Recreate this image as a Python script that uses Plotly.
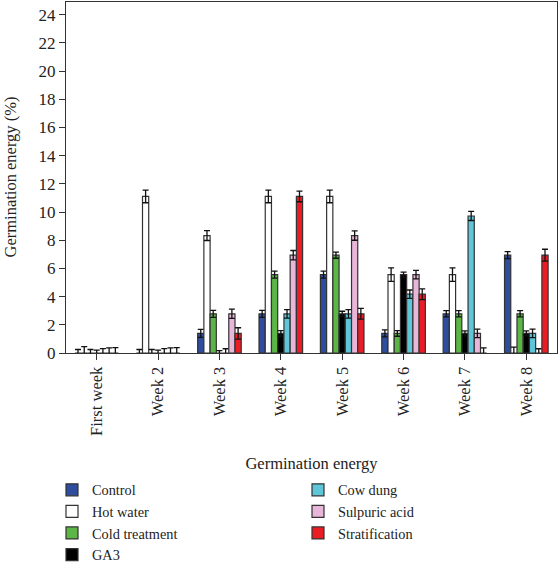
import plotly.graph_objects as go

weeks = ["First week", "Week 2", "Week 3", "Week 4", "Week 5", "Week 6", "Week 7", "Week 8"]
series_names = ["Control", "Hot water", "Cold treatment", "GA3", "Cow dung", "Sulpuric acid", "Stratification"]

control = [0, 0, 1.39, 2.78, 5.56, 1.39, 2.78, 6.94]
hot_water = [0, 11.11, 8.33, 11.11, 11.11, 5.56, 5.56, 0]
cold_treatment = [0, 0, 2.78, 5.56, 6.94, 1.39, 2.78, 2.78]
ga3 = [0, 0, 0, 1.39, 2.78, 5.56, 1.39, 1.39]
cow_dung = [0, 0, 0, 2.78, 2.78, 4.17, 9.72, 1.39]
sulpuric_acid = [0, 0, 2.78, 6.94, 8.33, 5.56, 1.39, 0]
stratification = [0, 0, 1.39, 11.11, 2.78, 4.17, 0, 6.94]

control_err = [0.25, 0.25, 0.28, 0.25, 0.25, 0.25, 0.22, 0.25]
hot_water_err = [0.45, 0.45, 0.35, 0.45, 0.45, 0.48, 0.48, 0.42]
cold_treatment_err = [0.25, 0.25, 0.25, 0.25, 0.22, 0.2, 0.22, 0.22]
ga3_err = [0.2, 0.2, 0.17, 0.2, 0.18, 0.18, 0.18, 0.18]
cow_dung_err = [0.31, 0.31, 0.3, 0.3, 0.3, 0.3, 0.32, 0.3]
sulpuric_acid_err = [0.36, 0.36, 0.33, 0.33, 0.33, 0.3, 0.3, 0.3]
stratification_err = [0.38, 0.38, 0.4, 0.38, 0.38, 0.38, 0.36, 0.42]

values = [control, hot_water, cold_treatment, ga3, cow_dung, sulpuric_acid, stratification]
errors = [control_err, hot_water_err, cold_treatment_err, ga3_err, cow_dung_err, sulpuric_acid_err, stratification_err]
colors = ["#2f4d9e", "#ffffff", "#5cb646", "#000000", "#5ec6d8", "#e8b6d8", "#ec1c24"]

FONT = "Liberation Serif, Times New Roman, serif"
W, H = 558, 562

fig = go.Figure()
for i, (name, v, e, c) in enumerate(zip(series_names, values, errors, colors)):
    fig.add_trace(go.Bar(
        x=weeks, y=v, name=name,
        marker=dict(color=c, line=dict(color="#333333", width=1.2)),
        error_y=dict(type="data", array=e, visible=True, color="#111111", thickness=1.3, width=3),
        legend="legend" if i < 4 else "legend2",
    ))

legend_font = dict(family=FONT, size=14.3, color="#222222")
fig.update_layout(
    width=W, height=H,
    margin=dict(l=66, r=1, t=2, b=209, autoexpand=False),
    paper_bgcolor="white", plot_bgcolor="white",
    barmode="group", bargap=0.29, bargroupgap=0,
    font=dict(family=FONT, size=16, color="#222222"),
    showlegend=True,
    legend=dict(x=52 / W, xref="container", y=1 - 474 / H, yref="container", xanchor="left", yanchor="top",
                font=legend_font, tracegroupgap=0, itemwidth=30, bgcolor="rgba(0,0,0,0)"),
    legend2=dict(x=298 / W, xref="container", y=1 - 474 / H, yref="container", xanchor="left", yanchor="top",
                 font=legend_font, tracegroupgap=0, itemwidth=30, bgcolor="rgba(0,0,0,0)"),
    annotations=[
        dict(text="Germination energy (%)", xref="paper", yref="paper", x=-56 / (W - 67), y=0.5,
             xanchor="center", yanchor="middle", textangle=-90, showarrow=False,
             font=dict(family=FONT, size=16.5, color="#222222")),
    ],
)

fig.update_xaxes(
    automargin=False,
    showline=True, linecolor="#333333", linewidth=1.2, mirror=True,
    ticks="outside", ticklen=6, tickcolor="#333333", tickangle=-90,
    tickfont=dict(family=FONT, size=16.5, color="#222222"),
    title=dict(text="Germination energy", font=dict(family=FONT, size=16.5, color="#222222"), standoff=22),
    showgrid=False,
)
fig.update_yaxes(
    automargin=False,
    range=[0, 24.9], tickvals=list(range(0, 25, 2)),
    showline=True, linecolor="#333333", linewidth=1.2, mirror=True,
    ticks="outside", ticklen=6, tickcolor="#333333",
    tickfont=dict(family=FONT, size=17, color="#222222"),
    showgrid=False, zeroline=False,
)

fig.write_html("out.html")
